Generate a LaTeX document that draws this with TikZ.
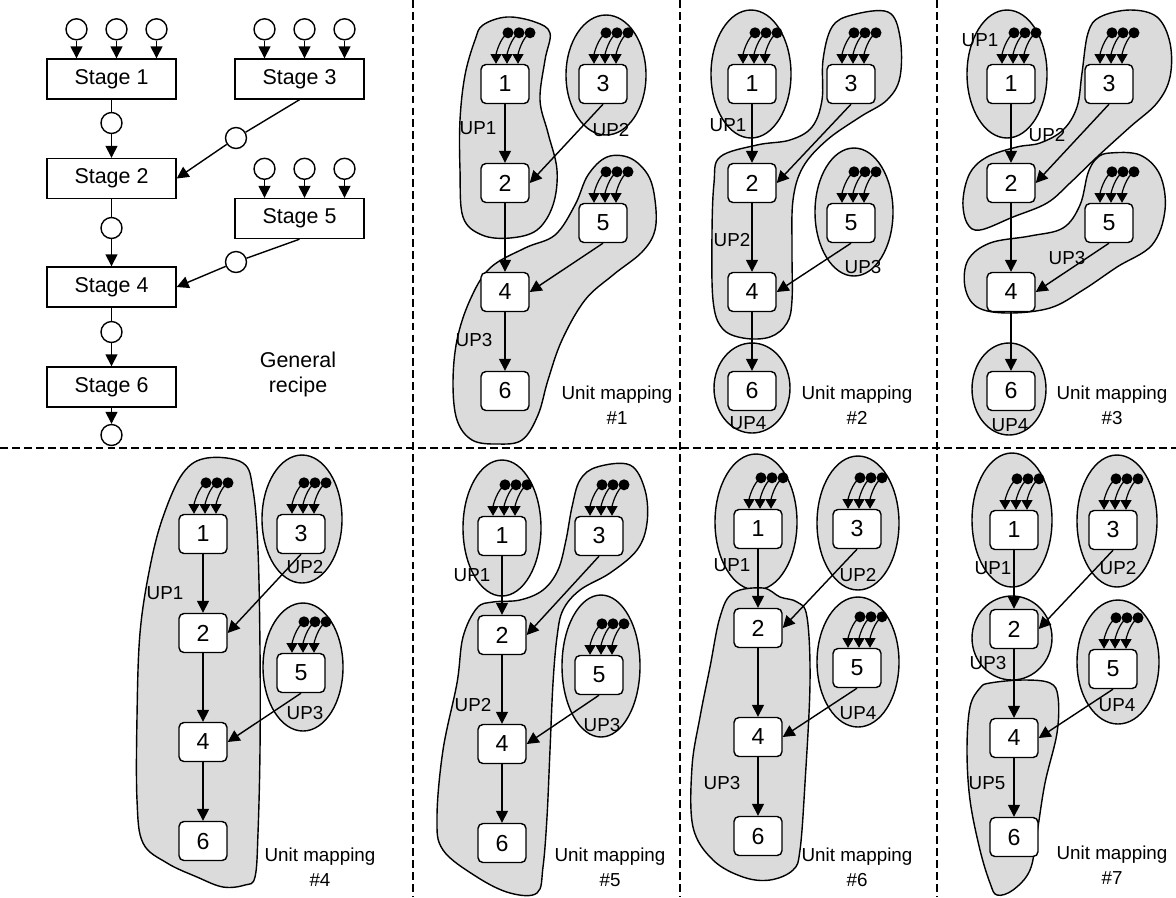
\documentclass[tikz,border=0pt]{standalone}
\usepackage{fontspec}
\setmainfont{Liberation Sans}
\usetikzlibrary{arrows.meta,calc}
\tikzset{
 unode/.style={draw, fill=white, rounded corners=2.8pt, minimum width=0.96cm, minimum height=0.78cm, inner sep=0pt, font=\fontsize{13.2pt}{15pt}\selectfont, line width=0.8pt},
 stagebox/.style={draw, fill=white, minimum width=2.58cm, minimum height=0.8cm, inner sep=0pt, font=\fontsize{12.2pt}{14pt}\selectfont, line width=0.8pt},
 flowc/.style={draw, fill=white, circle, minimum size=0.42cm, inner sep=0pt, line width=0.8pt},
 conn/.style={line width=0.8pt, -{Triangle[length=6.8pt,width=6.8pt]}},
 plainline/.style={line width=0.8pt},
 inarr/.style={line width=0.7pt, -{Triangle[length=5.5pt,width=6.2pt]}},
 blob/.style={draw, fill=black!14, line width=0.8pt},
 lab/.style={font=\fontsize{10.7pt}{14.2pt}\selectfont, inner sep=0pt, align=center},
 biglab/.style={font=\fontsize{12.2pt}{14.2pt}\selectfont, inner sep=0pt, align=center},
 sep/.style={dash pattern=on 4.5pt off 2.3pt, line width=0.6pt},
}
\newcommand\feedin[1]{%
  \foreach \d in {3,14,25}{
    \draw[inarr] ($(#1.north)+(\d,-31)$) .. controls +(-8,5) and +(0,-10) .. ($(#1.north)+(\d-12,0)$);
  }
  \foreach \d in {3,14,25}{
    \fill ($(#1.north)+(\d,-31)$) circle [radius=5.5];
  }
}
\newcommand\umap[4]{%
  \node[unode] (#1n1) at (#2,84+#4) {1};
  \node[unode] (#1n3) at (#3,84+#4) {3};
  \node[unode] (#1n2) at (#2,183+#4) {2};
  \node[unode] (#1n5) at (#3,223+#4) {5};
  \node[unode] (#1n4) at (#2,292+#4) {4};
  \node[unode] (#1n6) at (#2,391+#4) {6};
  \draw[conn] (#1n1) -- (#1n2);
  \draw[conn] (#1n3.south) -- (#1n2.east);
  \draw[conn] (#1n2) -- (#1n4);
  \draw[conn] (#1n5.south) -- (#1n4.east);
  \draw[conn] (#1n4) -- (#1n6);
  \feedin{#1n1}\feedin{#1n3}\feedin{#1n5}
}
\begin{document}
\begin{tikzpicture}[x=0.02cm, y=-0.02cm]
\useasboundingbox (0,0) rectangle (1176,897);
% separators
\draw[sep] (0,448) -- (1176,448);
\draw[sep] (413,0) -- (413,897);
\draw[sep] (680,0) -- (680,897);
\draw[sep] (937,0) -- (937,897);

% ---------- General recipe ----------
\node[stagebox] (S1) at (111.5,79) {Stage 1};
\node[stagebox] (S3) at (299.5,79) {Stage 3};
\node[stagebox] (S2) at (111.5,178.5) {Stage 2};
\node[stagebox] (S5) at (299.5,218.5) {Stage 5};
\node[stagebox] (S4) at (111.5,287) {Stage 4};
\node[stagebox] (S6) at (111.5,387) {Stage 6};
\foreach \s in {S1,S3,S5}{
  \foreach \i/\k in {1/-35,2/5,3/45}{
    \node[flowc] (\s c\i) at ($(\s.north)+(\k,-29)$) {};
    \draw[conn] (\s c\i) -- (\s c\i |- \s.north);
  }
}
\node[flowc] (c12) at (111.5,123) {};
\node[flowc] (c32) at (236,138) {};
\node[flowc] (c24) at (111.5,228) {};
\node[flowc] (c54) at (236,262) {};
\node[flowc] (c46) at (111.5,332) {};
\node[flowc] (cout) at (111.5,435) {};
\draw[plainline] (S1) -- (c12);
\draw[conn] (c12) -- (S2);
\draw[plainline] (S3.south) -- (c32);
\draw[conn] (c32) -- (S2.east);
\draw[plainline] (S2) -- (c24);
\draw[conn] (c24) -- (S4);
\draw[plainline] (S5.south) -- (c54);
\draw[conn] (c54) -- (S4.east);
\draw[plainline] (S4) -- (c46);
\draw[conn] (c46) -- (S6);
\draw[conn] (S6) -- (cout);
\node[biglab] (grlab) at (298,374.5) {General\\recipe};

% ---------- Unit mapping #1 ----------
\draw[blob] plot[smooth cycle, tension=0.6] coordinates {(483,25) (507,17) (535,22) (550,33) (545,60) (540,100) (548,133) (557,170) (553,205) (537,230) (510,238) (482,235) (463,217) (460,170) (460,120) (465,75) (475,40)};
\draw[blob] (606,75) ellipse [x radius=40, y radius=60];
\draw[blob] plot[smooth cycle, tension=0.6] coordinates {(607,157) (630,158) (648,175) (655,200) (655,230) (642,252) (613,275) (585,300) (562,340) (548,380) (538,415) (522,440) (497,444) (472,440) (457,420) (453,383) (457,340) (470,300) (490,268) (525,248) (555,235) (575,205) (588,175)};
\umap{a}{505}{603}{0}
\node[lab] (a1) at (478,128) {UP1};
\node[lab] (a2) at (611,130) {UP2};
\node[lab] (a3) at (474,340) {UP3};
\node[lab] (am) at (617,405.5) {Unit mapping\\\#1};

% ---------- Unit mapping #2 ----------
\draw[blob] (751,74) ellipse [x radius=40, y radius=64];
\draw[blob] plot[smooth cycle, tension=0.6] coordinates {(852,15) (888,12) (900,37) (900,77) (887,100) (860,117) (827,140) (803,167) (793,200) (792,250) (792,300) (787,323) (770,337) (743,338) (722,328) (713,300) (712,233) (714,183) (720,157) (757,145) (790,140) (812,127) (822,100) (823,60) (832,27)};
\draw[blob] (854,212) ellipse [x radius=39, y radius=64];
\draw[blob] (752,388) ellipse [x radius=38, y radius=45];
\umap{b}{752}{851}{0}
\node[lab] (b1) at (728,125) {UP1};
\node[lab] (b2) at (732,240) {UP2};
\node[lab] (b3) at (863,267) {UP3};
\node[lab] (b4) at (748,423) {UP4};
\node[lab] (bm) at (857,405.5) {Unit mapping\\\#2};

% ---------- Unit mapping #3 ----------
\draw[blob] (1007,74) ellipse [x radius=40, y radius=64];
\draw[blob] plot[smooth cycle, tension=0.6] coordinates {(1100,17) (1130,10) (1157,17) (1170,43) (1170,77) (1157,103) (1130,127) (1097,157) (1070,183) (1047,203) (1013,217) (980,230) (967,223) (963,200) (970,173) (987,157) (1017,147) (1040,143) (1063,130) (1077,107) (1082,73) (1088,33)};
\draw[blob] plot[smooth cycle, tension=0.6] coordinates {(1110,153) (1140,155) (1160,175) (1165,210) (1152,245) (1117,267) (1083,290) (1050,308) (1007,313) (977,307) (965,287) (968,260) (990,243) (1030,236) (1063,228) (1080,205) (1088,173) (1097,158)};
\draw[blob] (1009,389) ellipse [x radius=37, y radius=46];
\umap{c}{1011}{1109}{0}
\node[lab] (c1) at (980,40) {UP1};
\node[lab] (c2) at (1047,135) {UP2};
\node[lab] (c3) at (1067,258) {UP3};
\node[lab] (c4) at (1010,425) {UP4};
\node[lab] (cm) at (1112,405.5) {Unit mapping\\\#3};

% ---------- Unit mapping #4 ----------
\draw[blob] plot[smooth cycle, tension=0.6] coordinates {(207,458) (243,463) (253,490) (258,550) (260,650) (260,750) (258,833) (255,877) (245,885) (223,887) (197,877) (167,863) (143,843) (137,800) (137,717) (140,633) (150,567) (163,517) (183,473)};
\draw[blob] (302,519) ellipse [x radius=40, y radius=64];
\draw[blob] (303,667) ellipse [x radius=40, y radius=64];
\umap{d}{203}{301}{450}
\node[lab] (d1) at (165,593) {UP1};
\node[lab] (d2) at (305,567) {UP2};
\node[lab] (d3) at (305,713) {UP3};
\node[lab] (dm) at (320,867) {Unit mapping\\\#4};

% ---------- Unit mapping #5 ----------
\draw[blob] (502,528) ellipse [x radius=39, y radius=68];
\draw[blob] plot[smooth cycle, tension=0.6] coordinates {(597,467) (630,465) (645,490) (647,523) (637,550) (610,573) (580,590) (563,610) (557,637) (553,683) (550,750) (547,817) (543,867) (537,893) (510,893) (477,877) (443,850) (437,817) (443,750) (457,683) (463,637) (477,608) (493,602) (520,600) (543,590) (558,570) (566,540) (572,507) (580,480)};
\draw[blob] (601,666) ellipse [x radius=39, y radius=71];
\umap{e}{502}{599}{452}
\node[lab] (e1) at (472,575) {UP1};
\node[lab] (e2) at (473,705) {UP2};
\node[lab] (e3) at (602,725) {UP3};
\node[lab] (em) at (610,867) {Unit mapping\\\#5};

% ---------- Unit mapping #6 ----------
\draw[blob] (756,522) ellipse [x radius=41, y radius=68];
\draw[blob] (858,523) ellipse [x radius=41, y radius=67];
\draw[blob] (858,662) ellipse [x radius=41, y radius=65];
\draw[blob] plot[smooth cycle, tension=0.6] coordinates {(733,593) (763,588) (780,597) (797,602) (807,617) (810,683) (805,783) (800,850) (793,870) (770,880) (743,877) (713,860) (693,827) (692,767) (700,717) (710,667) (720,617)};
\umap{f}{758}{857}{445}
\node[lab] (f1) at (732,565) {UP1};
\node[lab] (f2) at (858,575) {UP2};
\node[lab] (f4) at (858,713) {UP4};
\node[lab] (f3) at (722,783) {UP3};
\node[lab] (fm) at (857,867) {Unit mapping\\\#6};

% ---------- Unit mapping #7 ----------
\draw[blob] (1012,520) ellipse [x radius=40, y radius=67];
\draw[blob] (1117,521) ellipse [x radius=40, y radius=66];
\draw[blob] (1012,638) ellipse [x radius=40, y radius=42];
\draw[blob] (1118,662) ellipse [x radius=41, y radius=62];
\draw[blob] plot[smooth cycle, tension=0.6] coordinates {(990,683) (1023,680) (1050,683) (1058,697) (1057,733) (1045,783) (1037,833) (1030,870) (1013,890) (997,895) (990,883) (980,850) (970,800) (967,750) (970,707) (980,688)};
\umap{g}{1014}{1113}{446}
\node[lab] (g1) at (993,568) {UP1};
\node[lab] (g2) at (1118,568) {UP2};
\node[lab] (g3) at (988,663) {UP3};
\node[lab] (g4) at (1117,705) {UP4};
\node[lab] (g5) at (987,783) {UP5};
\node[lab] (gm) at (1112,865) {Unit mapping\\\#7};
\end{tikzpicture}
\end{document}
